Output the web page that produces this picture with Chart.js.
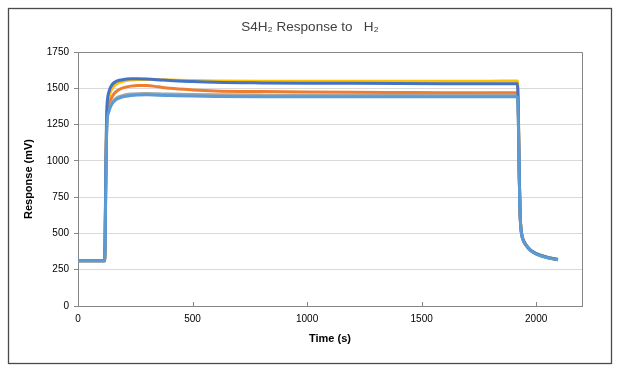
<!DOCTYPE html>
<html>
<head>
<meta charset="utf-8">
<script src="https://cdn.jsdelivr.net/npm/chart.js@4/dist/chart.umd.min.js"></script>
<style>
html,body{margin:0;padding:0;background:#fff;}
#wrap{width:618px;height:370px;position:relative;}
</style>
</head>
<body>
<div id="wrap"><canvas id="c" width="618" height="370"></canvas></div>
<script>
const chartTitle = "S4H\u2082 Response to   H\u2082";
const xTitle = "Time (s)";
const yTitle = "Response (mV)";
const xTicks = [0, 500, 1000, 1500, 2000];
const yTicks = [0, 250, 500, 750, 1000, 1250, 1500, 1750];

const times = [0,50,100,115,118,121,124,127,130,135,140,150,165,180,200,230,260,300,350,400,500,600,800,1000,1200,1400,1600,1800,1900,1918,1922,1926,1930,1935,1942,1950,1965,1980,2000,2025,2050,2075,2095];

const seriesLightBlue = [311,311,311,311,390,800,1120,1270,1315,1340,1365,1395,1420,1433,1443,1450,1454,1455,1452,1450,1446,1444,1442,1441,1441,1441,1441,1442,1442,1442,1290,885,618,508,457,431,399,376,358,343,332,324,318];
const seriesDarkBlue  = [311,311,311,311,420,880,1230,1390,1440,1475,1500,1528,1546,1555,1561,1565,1566,1564,1559,1553,1546,1541,1537,1535,1534,1533,1532,1531,1531,1531,1360,920,630,515,462,434,402,379,361,346,335,327,321];
const seriesGray      = [311,311,311,311,395,810,1130,1280,1325,1350,1375,1405,1430,1443,1453,1460,1463,1464,1462,1460,1457,1455,1453,1452,1452,1452,1452,1453,1453,1453,1300,890,620,510,458,432,400,377,359,344,333,325,319];
const seriesOrange    = [311,311,311,311,400,840,1170,1320,1360,1385,1410,1445,1475,1492,1505,1515,1520,1519,1510,1500,1489,1482,1477,1474,1472,1471,1470,1470,1470,1470,1320,900,625,512,460,433,401,378,360,345,334,326,320];
const seriesGold      = [311,311,311,311,410,860,1200,1360,1405,1440,1468,1502,1526,1540,1550,1557,1561,1561,1559,1557,1553,1551,1549,1548,1548,1548,1549,1549,1550,1550,1370,930,635,518,464,436,403,380,362,347,336,328,322];

const seriesList = [
  {name: "Series 5", values: seriesLightBlue, color: "#5B9BD5"},
  {name: "Series 4", values: seriesDarkBlue,  color: "#4472C4"},
  {name: "Series 3", values: seriesGray,      color: "#A5A5A5"},
  {name: "Series 2", values: seriesOrange,    color: "#ED7D31"},
  {name: "Series 1", values: seriesGold,      color: "#FFC000"}
];

const FONT = "'Liberation Sans', Arial, sans-serif";

const frame = {
  id: 'frame',
  beforeDraw(chart) {
    const ctx = chart.ctx;
    ctx.save();
    ctx.fillStyle = '#fff';
    ctx.fillRect(0, 0, chart.width, chart.height);
    ctx.strokeStyle = '#4a4a4a';
    ctx.lineWidth = 1.3;
    ctx.strokeRect(8.5, 8.5, 603, 355);
    ctx.restore();
  },
  beforeDatasetsDraw(chart) {
    const ctx = chart.ctx;
    const a = chart.chartArea;
    const xs = chart.scales.x;
    ctx.save();
    ctx.strokeStyle = '#868686';
    ctx.lineWidth = 1;
    ctx.beginPath();
    ctx.moveTo(Math.round(a.left) + 0.5, Math.round(a.top) + 0.5);
    ctx.lineTo(Math.round(a.right) + 0.5, Math.round(a.top) + 0.5);
    ctx.lineTo(Math.round(a.right) + 0.5, Math.round(a.bottom) + 0.5);
    ctx.stroke();
    for (const v of xTicks) {
      const px = Math.round(xs.getPixelForValue(v)) + 0.5;
      ctx.beginPath();
      ctx.moveTo(px, Math.round(a.bottom));
      ctx.lineTo(px, Math.round(a.bottom) - 4);
      ctx.stroke();
    }
    ctx.restore();
  }
};

new Chart(document.getElementById('c'), {
  type: 'line',
  data: {
    datasets: seriesList.map(s => ({
      label: s.name,
      data: times.map((t, i) => ({x: t, y: s.values[i]})),
      borderColor: s.color,
      backgroundColor: s.color,
      borderWidth: 3,
      pointRadius: 0,
      cubicInterpolationMode: 'monotone',
      fill: false
    }))
  },
  options: {
    responsive: false,
    animation: false,
    devicePixelRatio: 1,
    layout: {padding: {left: 10, right: 8, top: 17, bottom: 20}},
    plugins: {
      legend: {display: false},
      tooltip: {enabled: false},
      title: {
        display: true,
        text: chartTitle,
        color: '#404040',
        font: {family: FONT, size: 13.5, weight: 'normal', lineHeight: 1.2},
        padding: {top: 2, bottom: 16.8}
      }
    },
    scales: {
      x: {
        type: 'linear',
        min: 0, max: 2200,
        afterBuildTicks: s => { s.ticks = xTicks.map(v => ({value: v})); },
        afterFit: s => { s.height = 44; },
        ticks: {color: '#000', font: {family: FONT, size: 10}, padding: 7, maxRotation: 0, callback: v => String(v)},
        grid: {display: false, drawTicks: false},
        border: {display: true, color: '#868686', width: 1},
        title: {display: true, text: xTitle, color: '#000', font: {family: FONT, size: 11, weight: 'bold'}, padding: {top: 4, bottom: 4}}
      },
      y: {
        min: 0, max: 1750,
        afterBuildTicks: s => { s.ticks = yTicks.map(v => ({value: v})); },
        afterFit: s => { s.width = 68; },
        ticks: {color: '#000', font: {family: FONT, size: 10}, padding: 5, callback: v => String(v)},
        grid: {color: '#d9d9d9', lineWidth: 1, drawTicks: true, tickLength: 4, tickColor: '#868686'},
        border: {display: true, color: '#868686', width: 1},
        title: {display: true, text: yTitle, color: '#000', font: {family: FONT, size: 11, weight: 'bold'}, padding: {top: 12, bottom: 0}}
      },
      ySpacer: {
        position: 'right',
        display: true,
        min: 0, max: 1,
        afterFit: s => { s.width = 28; },
        ticks: {display: false},
        grid: {display: false, drawTicks: false},
        border: {display: false}
      }
    }
  },
  plugins: [frame]
});
</script>
</body>
</html>
